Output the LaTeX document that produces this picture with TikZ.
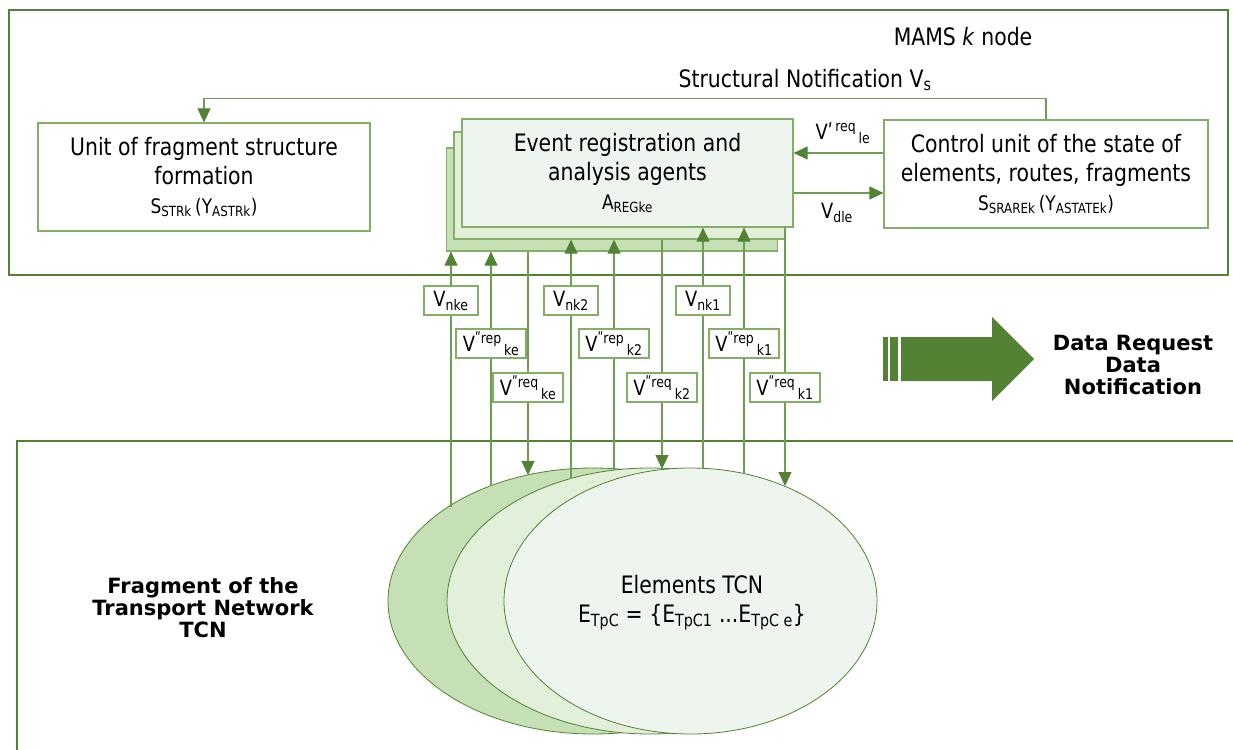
\documentclass[tikz,border=0pt]{standalone}
\usepackage{fontspec}
\setmainfont{DejaVu Sans}[FakeStretch=0.85]
\newfontfamily\headfont{DejaVu Sans}
\usetikzlibrary{arrows.meta}
\definecolor{dkgreen}{HTML}{548235}
\definecolor{lngreen}{HTML}{6E9E52}
\definecolor{bxgreen}{HTML}{84AE66}
\definecolor{fillA}{HTML}{C5E0B4}
\definecolor{fillB}{HTML}{E2F0D9}
\definecolor{fillC}{HTML}{EEF5EF}
\newcommand\mainsz{\fontsize{24}{29}\selectfont}
\newcommand\subsz{\fontsize{20}{22}\selectfont}
\newcommand\lblsz{\fontsize{21}{22}\selectfont}
\newcommand\boldsz{\headfont\bfseries\fontsize{21}{22}\selectfont}

\begin{document}
\begin{tikzpicture}[x=1pt,y=-1pt,
  every node/.style={font=\mainsz},
  frame/.style={draw=dkgreen,line width=2pt},
  unit/.style={draw=bxgreen,line width=1.2pt,align=center,inner sep=0pt},
  card/.style={unit,minimum width=331pt},
  lbl/.style={draw=bxgreen,line width=1.2pt,fill=white,minimum height=29pt,inner sep=0pt,font=\lblsz},
  wire/.style={draw=lngreen,line width=1.2pt},
  arr/.style={wire,-{Triangle[length=14pt,width=13pt,color=dkgreen]}}]
\useasboundingbox (0,0) rectangle (1233,749);
\draw[frame] (9,10) rectangle (1228,275);
\draw[frame] (17,441) rectangle (1245,760);

\node (mams) at (963,37) {MAMS \textit{k} node};
\node (sn) at (805,80) {Structural Notification V\textsubscript{s}};

\node[unit,minimum width=332pt,minimum height=108pt] (unit) at (204,177)
  {Unit of fragment structure\\formation\\{\subsz S\textsubscript{STRk}\,(Y\textsubscript{ASTRk})}};
\node[card,fill=fillA,minimum height=103pt] (cardA) at (612,199.5) {};
\node[card,fill=fillB,minimum height=107pt] (cardB) at (619.5,185.5) {};
\node[card,fill=fillC,minimum height=108pt] (cardC) at (627.5,173)
  {Event registration and\\analysis agents\\{\subsz A\textsubscript{REGke}}};
\node[unit,minimum width=324pt,minimum height=108pt] (ctrl) at (1046,174)
  {Control unit of the state of\\elements, routes, fragments\\{\subsz S\textsubscript{SRAREk}\,(Y\textsubscript{ASTATEk})}};

\draw[arr] (ctrl.north) -- ++(0,-21) -| (unit.north);
\coordinate (rq) at ([yshift=21pt]ctrl.west);
\coordinate (dl) at ([yshift=-19pt]ctrl.west);
\draw[arr] (rq) -- (rq -| cardC.east);
\draw[arr] (dl -| cardC.east) -- (dl);
\node[font=\lblsz] (vreq) at (843,133) {Vʹ\textsuperscript{\,req}\textsubscript{\,le}};
\node[font=\lblsz] (vdl) at (837,213) {V\textsubscript{dle}};

\filldraw[fill=fillA,draw=dkgreen,line width=0.8pt] (593,601) ellipse (205 and 133);
\filldraw[fill=fillB,draw=dkgreen,line width=0.8pt] (650,601) ellipse (203 and 133);
\filldraw[fill=fillC,draw=dkgreen,line width=0.8pt] (690.5,601) ellipse (186.5 and 133);
\node[align=center] (elem) at (692,603)
  {Elements TCN\\E\textsubscript{TpC} = \{E\textsubscript{TpC1} ...E\textsubscript{TpC e}\}};

\coordinate (eA1) at (451,506.5);
\coordinate (eA2) at (491,485.6);
\coordinate (eA3) at (528,475);
\coordinate (eB1) at (571,478.5);
\coordinate (eB2) at (614,470);
\coordinate (eB3) at (662,469);
\coordinate (eC1) at (703,468.5);
\coordinate (eC2) at (744,474);
\coordinate (eC3) at (785,486);

\node[lbl,minimum width=54pt] (nA) at (451,300.5) {V\textsubscript{nke}};
\node[lbl,minimum width=70pt] (pA) at (491,343.5) {V\textsuperscript{ʺrep}\textsubscript{\,ke}};
\node[lbl,minimum width=70pt] (qA) at (528,387.5) {V\textsuperscript{ʺreq}\textsubscript{\,ke}};
\node[lbl,minimum width=54pt] (nB) at (571,300.5) {V\textsubscript{nk2}};
\node[lbl,minimum width=70pt] (pB) at (614,343.5) {V\textsuperscript{ʺrep}\textsubscript{\,k2}};
\node[lbl,minimum width=70pt] (qB) at (662,387.5) {V\textsuperscript{ʺreq}\textsubscript{\,k2}};
\node[lbl,minimum width=54pt] (nC) at (703,300.5) {V\textsubscript{nk1}};
\node[lbl,minimum width=70pt] (pC) at (744,343.5) {V\textsuperscript{ʺrep}\textsubscript{\,k1}};
\node[lbl,minimum width=70pt] (qC) at (785,387.5) {V\textsuperscript{ʺreq}\textsubscript{\,k1}};

\draw[wire] (eA1) -- (nA);
\draw[arr] (nA) -- (cardA.south -| nA);
\draw[wire] (eA2) -- (pA);
\draw[arr] (pA) -- (cardA.south -| pA);
\draw[wire] (cardA.south -| qA) -- (qA);
\draw[arr] (qA) -- (eA3);
\draw[wire] (eB1) -- (nB);
\draw[arr] (nB) -- (cardB.south -| nB);
\draw[wire] (eB2) -- (pB);
\draw[arr] (pB) -- (cardB.south -| pB);
\draw[wire] (cardB.south -| qB) -- (qB);
\draw[arr] (qB) -- (eB3);
\draw[wire] (eC1) -- (nC);
\draw[arr] (nC) -- (cardC.south -| nC);
\draw[wire] (eC2) -- (pC);
\draw[arr] (pC) -- (cardC.south -| pC);
\draw[wire] (cardC.south -| qC) -- (qC);
\draw[arr] (qC) -- (eC3);

\fill[dkgreen] (901,337) -- (992,337) -- (992,317) -- (1034,359) -- (992,401) -- (992,381) -- (901,381) -- cycle;
\fill[dkgreen] (883,337) rectangle (888,381);
\fill[dkgreen] (890,337) rectangle (898,381);
\node[align=center,font=\boldsz] (dreq) at (1133,365) {Data Request\\Data\\Notification};
\node[align=center,font=\boldsz] (frag) at (203,608) {Fragment of the\\Transport Network\\TCN};
\end{tikzpicture}
\end{document}
